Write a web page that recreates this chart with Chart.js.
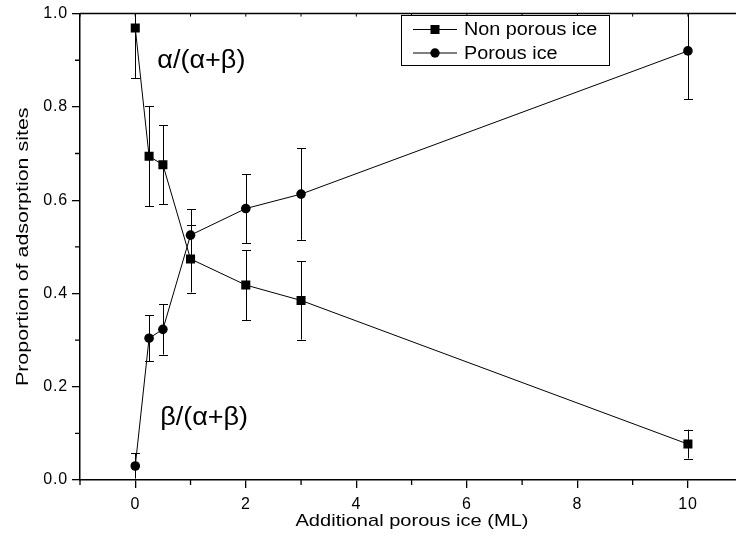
<!DOCTYPE html>
<html>
<head>
<meta charset="utf-8">
<script src="https://cdn.jsdelivr.net/npm/chart.js@4"></script>
<style>
html,body{margin:0;padding:0;background:#fff;overflow:hidden;}
#wrap{width:736px;height:543px;position:relative;}
</style>
</head>
<body>
<div id="wrap"><canvas id="c"></canvas></div>
<script>
const xValues = [0, 0.25, 0.5, 1, 2, 3, 10];
const nonPorous = [0.969, 0.694, 0.676, 0.474, 0.418, 0.385, 0.077];
const nonPorousErr = [0.107, 0.107, 0.085, 0.072, 0.075, 0.084, 0.031];
const porous = [0.030, 0.304, 0.323, 0.525, 0.582, 0.613, 0.920];
const porousErr = [0.027, 0.049, 0.054, 0.056, 0.074, 0.098, 0.103];
const xTickValues = [0, 2, 4, 6, 8, 10];
const xMinorTicks = [-1, 1, 3, 5, 7, 9];
const yTickValues = [0, 0.2, 0.4, 0.6, 0.8, 1.0];
const yMinorTicks = [0.1, 0.3, 0.5, 0.7, 0.9];
const seriesNames = ['Non porous ice', 'Porous ice'];
const xTitle = 'Additional porous ice (ML)';
const yTitle = 'Proportion of adsorption sites';
const annotations = [
  {text: 'α/(α+β)', x: 0.4, y: 0.898},
  {text: 'β/(α+β)', x: 0.45, y: 0.133}
];

const FONT = "'Liberation Sans', Arial, Helvetica, sans-serif";

function setSpacing(ctx, v) { if ('letterSpacing' in ctx) ctx.letterSpacing = v; }

// draw text stretched along its writing direction
function wideText(ctx, text, x, y, sx, align) {
  ctx.save();
  ctx.translate(x, y);
  ctx.scale(sx, 1);
  ctx.textAlign = align;
  ctx.fillText(text, 0, 0);
  ctx.restore();
}

const errorBars = {
  id: 'errorBars',
  beforeLayout(chart) { setSpacing(chart.ctx, '0.8px'); },
  beforeDraw(chart) { setSpacing(chart.ctx, '0.8px'); },
  beforeDatasetsDraw(chart) {
    const {ctx, chartArea, scales: {x, y}} = chart;
    ctx.save();
    ctx.beginPath();
    ctx.rect(chartArea.left, chartArea.top, chartArea.right - chartArea.left, chartArea.bottom - chartArea.top);
    ctx.clip();
    ctx.strokeStyle = '#000';
    ctx.lineWidth = 1;
    const sets = [[nonPorous, nonPorousErr], [porous, porousErr]];
    sets.forEach(([vals, errs]) => {
      vals.forEach((v, i) => {
        const px = Math.round(x.getPixelForValue(xValues[i])) + 0.5;
        const yt = y.getPixelForValue(v + errs[i]);
        const yb = y.getPixelForValue(v - errs[i]);
        ctx.beginPath();
        ctx.moveTo(px, yt); ctx.lineTo(px, yb);
        ctx.moveTo(px - 4.5, Math.round(yt) + 0.5); ctx.lineTo(px + 4.5, Math.round(yt) + 0.5);
        ctx.moveTo(px - 4.5, Math.round(yb) + 0.5); ctx.lineTo(px + 4.5, Math.round(yb) + 0.5);
        ctx.stroke();
      });
    });
    ctx.restore();
  },
  afterDraw(chart) {
    const {ctx, chartArea, scales: {x, y}} = chart;
    ctx.save();
    setSpacing(ctx, '0px');
    ctx.strokeStyle = '#000';
    // minor ticks
    ctx.lineWidth = 1.3;
    ctx.beginPath();
    yMinorTicks.forEach(v => {
      const py = y.getPixelForValue(v);
      ctx.moveTo(chartArea.left - 5, py); ctx.lineTo(chartArea.left, py);
    });
    xMinorTicks.forEach(v => {
      const px = x.getPixelForValue(v);
      ctx.moveTo(px, chartArea.bottom); ctx.lineTo(px, chartArea.bottom + 5);
    });
    ctx.stroke();
    // top axis
    ctx.lineWidth = 1.5;
    ctx.beginPath();
    ctx.moveTo(chartArea.left, chartArea.top);
    ctx.lineTo(chartArea.right, chartArea.top);
    ctx.stroke();
    ctx.lineWidth = 1;
    ctx.beginPath();
    xTickValues.concat(xMinorTicks).forEach(v => {
      const px = x.getPixelForValue(v);
      ctx.moveTo(px, chartArea.top); ctx.lineTo(px, chartArea.top + 3);
    });
    ctx.stroke();
    ctx.fillStyle = '#000';
    ctx.textBaseline = 'middle';
    // axis titles
    ctx.font = '17px ' + FONT;
    wideText(ctx, xTitle, 412, 521, 1.18, 'center');
    ctx.save();
    ctx.translate(23, (chartArea.top + chartArea.bottom) / 2);
    ctx.rotate(-Math.PI / 2);
    wideText(ctx, yTitle, 0, 0, 1.26, 'center');
    ctx.restore();
    // annotations
    ctx.font = '25px ' + FONT;
    annotations.forEach(a => {
      wideText(ctx, a.text, x.getPixelForValue(a.x), y.getPixelForValue(a.y), 1.08, 'left');
    });
    // legend
    const lx = 401, ly = 15, lw = 208, lh = 50;
    ctx.fillStyle = '#fff';
    ctx.fillRect(lx, ly, lw, lh);
    ctx.lineWidth = 1;
    ctx.strokeRect(lx + 0.5, ly + 0.5, lw, lh);
    const rows = [29.5, 53];
    chart.data.datasets.forEach((ds, i) => {
      const ry = rows[i];
      ctx.beginPath();
      ctx.moveTo(413, ry); ctx.lineTo(457, ry);
      ctx.stroke();
      ctx.fillStyle = '#000';
      if (ds.pointStyle === 'rect') {
        ctx.fillRect(435 - 4.5, ry - 4.5, 9, 9);
      } else {
        ctx.beginPath();
        ctx.arc(435, ry, 4.7, 0, Math.PI * 2);
        ctx.fill();
      }
      ctx.font = '18px ' + FONT;
      wideText(ctx, ds.label, 464, ry + 1, 1.1, 'left');
    });
    ctx.restore();
  }
};

const ds1 = xValues.map((xv, i) => ({x: xv, y: nonPorous[i]}));
const ds2 = xValues.map((xv, i) => ({x: xv, y: porous[i]}));

new Chart(document.getElementById('c'), {
  type: 'scatter',
  data: {
    datasets: [
      {label: seriesNames[0], data: ds1, showLine: true, borderColor: '#000', borderWidth: 1,
       pointStyle: 'rect', pointRadius: 6.4, pointBackgroundColor: '#000', pointBorderColor: '#000', pointBorderWidth: 0, tension: 0},
      {label: seriesNames[1], data: ds2, showLine: true, borderColor: '#000', borderWidth: 1,
       pointStyle: 'circle', pointRadius: 4.8, pointBackgroundColor: '#000', pointBorderColor: '#000', pointBorderWidth: 0, tension: 0}
    ]
  },
  options: {
    responsive: true,
    maintainAspectRatio: false,
    animation: false,
    devicePixelRatio: 1,
    layout: {autoPadding: false, padding: {top: 11, right: 0, left: 0, bottom: 0}},
    plugins: {legend: {display: false}, tooltip: {enabled: false}},
    scales: {
      x: {
        type: 'linear', min: -1, max: 10.87,
        afterBuildTicks: s => { s.ticks = xTickValues.map(v => ({value: v})); },
        afterFit: s => { s.height = 63; },
        ticks: {color: '#000', font: {family: FONT, size: 16}, padding: 7, maxRotation: 0,
                callback: v => String(v)},
        grid: {drawOnChartArea: false, drawTicks: true, tickLength: 8, color: '#000', lineWidth: 1.3},
        border: {display: true, color: '#000', width: 1.5},
        title: {display: false}
      },
      y: {
        type: 'linear', min: 0, max: 1,
        afterBuildTicks: s => { s.ticks = yTickValues.map(v => ({value: v})); },
        afterFit: s => { s.width = 80; },
        ticks: {color: '#000', font: {family: FONT, size: 16}, padding: 4,
                callback: v => Number(v).toFixed(1)},
        grid: {drawOnChartArea: false, drawTicks: true, tickLength: 8, color: '#000', lineWidth: 1.3},
        border: {display: true, color: '#000', width: 1.5},
        title: {display: false}
      }
    }
  },
  plugins: [errorBars]
});
</script>
</body>
</html>
